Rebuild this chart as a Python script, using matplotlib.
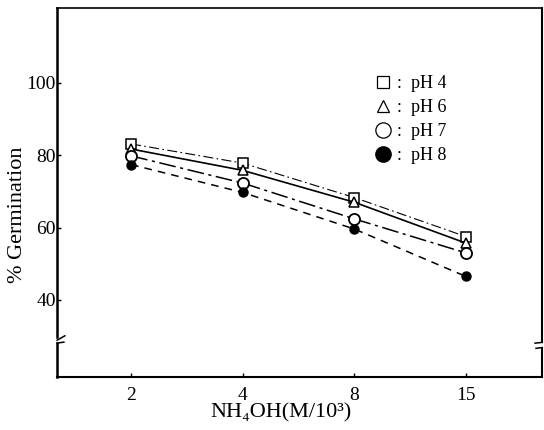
import matplotlib
matplotlib.use("Agg")
import matplotlib.pyplot as plt
from matplotlib.lines import Line2D

plt.rcParams['font.family'] = ['Liberation Serif', 'DejaVu Serif']

# data
concentracoes = ["2", "4", "8", "15"]
ph4 = [83.1, 77.8, 68.3, 57.5]
ph6 = [81.7, 75.8, 67.0, 55.7]
ph7 = [79.8, 72.3, 62.4, 53.0]
ph8 = [77.4, 69.7, 59.6, 46.5]
rotulos = ["pH 4", "pH 6", "pH 7", "pH 8"]

x = list(range(len(concentracoes)))

fig = plt.figure(figsize=(5.44, 4.30), dpi=100)
ax = fig.add_axes([0.105, 0.123, 0.891, 0.858])

ax.plot(x, ph4, color="black", lw=0.8, dashes=(9, 3, 1.5, 3),
        marker="s", ms=6.5, mfc="white", mec="black", mew=1.1)
ax.plot(x, ph6, color="black", lw=1.2, linestyle="-",
        marker="^", ms=7, mfc="white", mec="black", mew=1.1)
ax.plot(x, ph7, color="black", lw=1.1, dashes=(11, 3, 2, 3),
        marker="o", ms=8, mfc="white", mec="black", mew=1.3)
ax.plot(x, ph8, color="black", lw=1.1, dashes=(5, 4),
        marker="o", ms=6.5, mfc="black", mec="black")

ax.set_xlim(-0.663, 3.68)
ax.set_ylim(18.7, 120.6)

ax.set_xticks(x)
ax.set_xticklabels(concentracoes)
ax.set_yticks([40, 60, 80, 100])
ax.tick_params(axis="both", direction="in", length=3, width=1, labelsize=14)
ax.tick_params(axis="x", pad=7)
ax.tick_params(axis="y", pad=1)

# moldura com quebra no eixo y
for lado in ["left", "right"]:
    ax.spines[lado].set_visible(False)
ax.spines["top"].set_linewidth(1.2)
ax.spines["bottom"].set_linewidth(1.5)
t = ax.transAxes
ax.plot([0, 0], [0, 0.092], transform=t, color="black", lw=1.8, clip_on=False)
ax.plot([0, 0], [0.108, 1], transform=t, color="black", lw=1.8, clip_on=False)
ax.plot([0, 0.016], [0.100, 0.112], transform=t, color="black", lw=1.1, clip_on=False)
ax.plot([0, 0.014], [0.092, 0.095], transform=t, color="black", lw=1.1, clip_on=False)
ax.plot([1, 1], [0, 0.080], transform=t, color="black", lw=1.5, clip_on=False)
ax.plot([1, 1], [0.094, 1], transform=t, color="black", lw=1.5, clip_on=False)
ax.plot([1, 0.986], [0.094, 0.092], transform=t, color="black", lw=1.1, clip_on=False)
ax.plot([1, 0.988], [0.080, 0.078], transform=t, color="black", lw=1.1, clip_on=False)

ax.set_ylabel("% Germination", fontsize=16)
ax.yaxis.set_label_coords(-0.062, 0.44)
ax.set_xlabel("NH₄OH(M/10³)", fontsize=16, labelpad=0)
ax.xaxis.set_label_coords(0.462, -0.072)

handles = [
    Line2D([], [], ls="none", marker="s", ms=9, mfc="white", mec="black", mew=0.9),
    Line2D([], [], ls="none", marker="^", ms=9, mfc="white", mec="black", mew=0.9),
    Line2D([], [], ls="none", marker="o", ms=11, mfc="white", mec="black", mew=0.9),
    Line2D([], [], ls="none", marker="o", ms=11, mfc="black", mec="black"),
]
ax.legend(handles, [":  " + r for r in rotulos], loc="upper left",
          bbox_to_anchor=(0.62, 0.862), frameon=False, fontsize=13,
          handlelength=1.0, handletextpad=0.3, labelspacing=0.38)

plt.savefig("out.png", dpi=100)
